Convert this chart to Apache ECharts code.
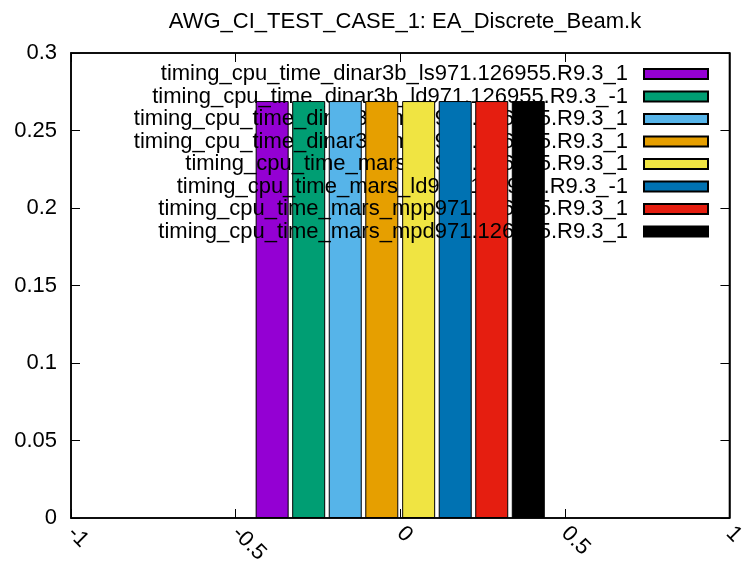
<!DOCTYPE html>
<html>
<head>
<meta charset="utf-8">
<script src="https://cdn.jsdelivr.net/npm/echarts@6/dist/echarts.min.js"></script>
<style>html,body{margin:0;padding:0;background:#fff;}#c{width:748px;height:568px;}</style>
</head>
<body>
<div id="c"></div>
<script>
var titleText = 'AWG_CI_TEST_CASE_1: EA_Discrete_Beam.k';
var seriesNames = [
  'timing_cpu_time_dinar3b_ls971.126955.R9.3_1',
  'timing_cpu_time_dinar3b_ld971.126955.R9.3_-1',
  'timing_cpu_time_dinar3b_mpp971.126955.R9.3_1',
  'timing_cpu_time_dinar3b_mpd971.126955.R9.3_1',
  'timing_cpu_time_mars_ls971.126955.R9.3_1',
  'timing_cpu_time_mars_ld971.126955.R9.3_-1',
  'timing_cpu_time_mars_mpp971.126955.R9.3_1',
  'timing_cpu_time_mars_mpd971.126955.R9.3_1'
];
var barX = [-0.389, -0.278, -0.167, -0.056, 0.056, 0.167, 0.278, 0.389];
var barValues = [0.269, 0.269, 0.269, 0.269, 0.269, 0.269, 0.269, 0.269];
var colors = ['#9400d3', '#009e73', '#56b4e9', '#e69f00', '#f0e442', '#0072b2', '#e51e10', '#000000'];
var yTicks = { min: 0, max: 0.3, interval: 0.05 };
var xTicks = { min: -1, max: 1, interval: 0.5 };

var FONT = 'Liberation Sans, Arial, Helvetica, sans-serif';
var FS = 22;
var legendRowTop = 63, legendRowStep = 22.5;

// gnuplot draws key entry i, then plot i: text i sits above bars < i, below bars >= i
var series = seriesNames.map(function (name, i) {
  return {
    name: name,
    type: 'bar',
    xAxisIndex: 0,
    yAxisIndex: 0,
    z: 2 * i + 3,
    barWidth: 33,
    barGap: '-100%',
    data: [[barX[i], barValues[i]]],
    itemStyle: { color: colors[i], borderColor: '#000', borderWidth: 1 },
    emphasis: { disabled: true },
    animation: false
  };
});

var legends = seriesNames.map(function (name, i) {
  return {
    data: [{ name: name, icon: 'rect' }],
    z: 2 * i + 2,
    right: 39,
    top: legendRowTop + i * legendRowStep,
    align: 'right',
    padding: 0,
    itemWidth: 64,
    itemHeight: 10,
    selectedMode: false,
    textStyle: { color: '#000', fontSize: FS, fontFamily: FONT, lineHeight: 22, padding: [0, 11, 0, 0] }
  };
});

function axisCommon(pos, showLabel, isX) {
  var t = isX ? xTicks : yTicks;
  return {
    type: 'value',
    position: pos,
    z: 40,
    min: t.min, max: t.max, interval: t.interval,
    splitLine: { show: false },
    axisLine: { show: true, onZero: false, lineStyle: { color: '#000', width: 1.5 } },
    axisTick: { show: true, inside: true, length: 9, lineStyle: { color: '#000', width: 1 } },
    axisLabel: showLabel ? (isX ? {
      show: true, rotate: -45, margin: 12, color: '#000', fontSize: FS, fontFamily: FONT
    } : {
      show: true, margin: 14, color: '#000', fontSize: FS, fontFamily: FONT
    }) : { show: false }
  };
}

var chart = echarts.init(document.getElementById('c'), null, { renderer: 'canvas' });
chart.setOption({
  animation: false,
  backgroundColor: '#fff',
  title: {
    text: titleText,
    left: 400,
    textAlign: 'center',
    top: 6,
    textStyle: { color: '#000', fontSize: FS, fontWeight: 'normal', fontFamily: FONT }
  },
  legend: legends,
  grid: { left: 71, right: 12, top: 53, bottom: 50, show: true, borderColor: '#000', borderWidth: 1.5, containLabel: false },
  xAxis: [axisCommon('bottom', true, true), axisCommon('top', false, true)],
  yAxis: [axisCommon('left', true, false), axisCommon('right', false, false)],
  series: series
});
</script>
</body>
</html>
